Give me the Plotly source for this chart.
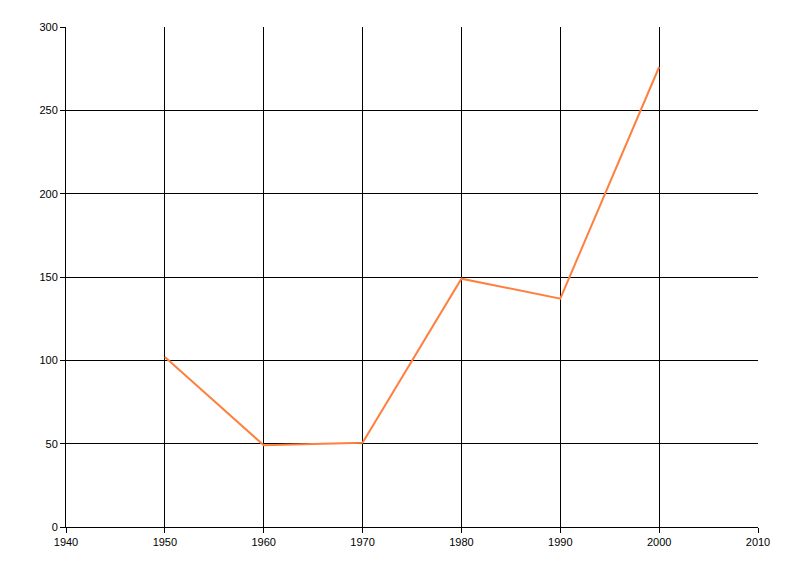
import plotly.graph_objects as go

years = [1950, 1960, 1970, 1980, 1990, 2000]
values = [102, 49, 50.5, 149, 137, 276]

x_ticks = [1940, 1950, 1960, 1970, 1980, 1990, 2000, 2010]
y_ticks = [0, 50, 100, 150, 200, 250, 300]

fig = go.Figure()

fig.add_trace(
    go.Scatter(
        x=years,
        y=values,
        mode="lines",
        line=dict(color="#FF7F3F", width=2),
        showlegend=False,
    )
)

axis_style = dict(
    showgrid=True,
    gridcolor="black",
    gridwidth=1,
    zeroline=False,
    showline=True,
    linecolor="black",
    linewidth=1,
    ticks="outside",
    ticklen=5,
    tickcolor="black",
    tickfont=dict(family="Liberation Sans", size=11, color="black"),
)

# page body adds 8px, so margins are shifted to land the plot area at 66..758 / 27..527
fig.update_layout(
    width=800,
    height=576,
    margin=dict(l=58, r=50, t=19, b=57),
    paper_bgcolor="white",
    plot_bgcolor="white",
    xaxis=dict(range=[1940, 2010], tickvals=x_ticks, **axis_style),
    yaxis=dict(range=[0, 300], tickvals=y_ticks, **axis_style),
)

fig.write_html("out.html")
